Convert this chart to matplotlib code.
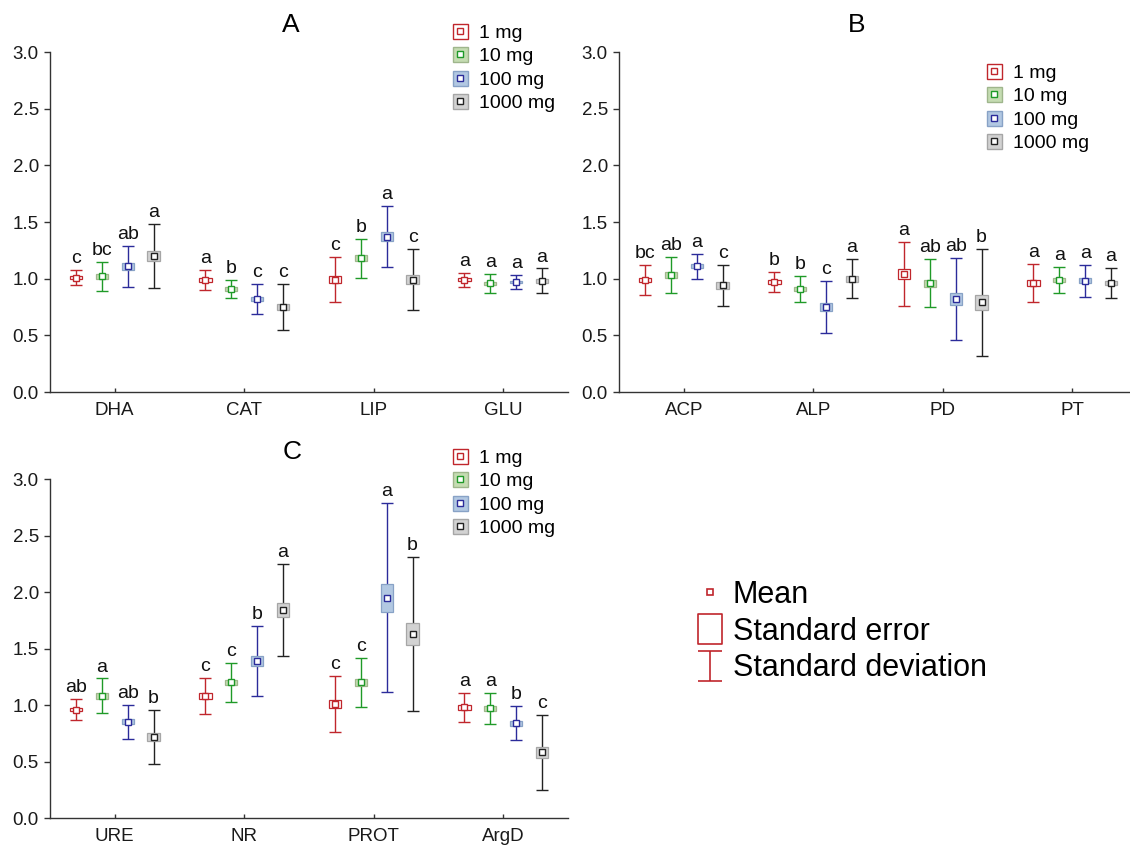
import numpy as np
import matplotlib
matplotlib.use("Agg")
import matplotlib.pyplot as plt
from matplotlib.lines import Line2D
from matplotlib.path import Path

plt.rcParams['font.family'] = ['Liberation Sans', 'DejaVu Sans']

### Data

doses = ["1 mg", "10 mg", "100 mg", "1000 mg"]

cats_a = ["DHA", "CAT", "LIP", "GLU"]
mean_a = [[1.01, 0.99, 0.99, 0.99],
          [1.02, 0.91, 1.18, 0.96],
          [1.11, 0.82, 1.37, 0.97],
          [1.20, 0.75, 0.99, 0.98]]
sd_a = [[0.07, 0.09, 0.20, 0.06],
        [0.13, 0.08, 0.17, 0.085],
        [0.18, 0.13, 0.27, 0.06],
        [0.28, 0.20, 0.27, 0.11]]
se_a = [[0.015, 0.015, 0.03, 0.012],
        [0.02, 0.015, 0.025, 0.015],
        [0.03, 0.02, 0.04, 0.012],
        [0.04, 0.03, 0.04, 0.02]]
let_a = [["c", "a", "c", "a"],
         ["bc", "b", "b", "a"],
         ["ab", "c", "a", "a"],
         ["a", "c", "c", "a"]]

cats_b = ["ACP", "ALP", "PD", "PT"]
mean_b = [[0.99, 0.97, 1.04, 0.96],
          [1.03, 0.91, 0.96, 0.99],
          [1.11, 0.75, 0.82, 0.98],
          [0.94, 1.00, 0.79, 0.96]]
sd_b = [[0.135, 0.09, 0.28, 0.17],
        [0.16, 0.115, 0.21, 0.115],
        [0.11, 0.23, 0.36, 0.145],
        [0.185, 0.17, 0.47, 0.135]]
se_b = [[0.02, 0.015, 0.045, 0.025],
        [0.025, 0.018, 0.03, 0.018],
        [0.018, 0.035, 0.055, 0.022],
        [0.028, 0.025, 0.07, 0.02]]
let_b = [["bc", "b", "a", "a"],
         ["ab", "b", "ab", "a"],
         ["a", "c", "ab", "a"],
         ["c", "a", "b", "a"]]

cats_c = ["URE", "NR", "PROT", "ArgD"]
mean_c = [[0.96, 1.08, 1.01, 0.98],
          [1.08, 1.20, 1.20, 0.97],
          [0.85, 1.39, 1.95, 0.84],
          [0.72, 1.84, 1.63, 0.58]]
sd_c = [[0.09, 0.16, 0.25, 0.13],
        [0.155, 0.17, 0.22, 0.136],
        [0.15, 0.31, 0.835, 0.15],
        [0.24, 0.41, 0.68, 0.33]]
se_c = [[0.015, 0.025, 0.037, 0.02],
        [0.023, 0.025, 0.032, 0.02],
        [0.022, 0.045, 0.125, 0.022],
        [0.035, 0.06, 0.098, 0.048]]
let_c = [["ab", "c", "c", "a"],
         ["a", "c", "c", "a"],
         ["ab", "b", "a", "b"],
         ["b", "a", "b", "c"]]

### Style

line_cols = ["#c0262c", "#1f9a28", "#2b2b9a", "#222222"]
box_fill = ["white", "#c5dcb2", "#b2c8e2", "#d2d2d2"]
box_edge = ["#c0262c", "#9fb68c", "#88a2c6", "#a6a6a6"]
offsets = [-0.3, -0.1, 0.1, 0.3]

W, H = 1130, 847
fig = plt.figure(figsize=(W / 100, H / 100), dpi=100)


def px_axes(left, top, right, bottom):
    return fig.add_axes([left / W, 1 - bottom / H, (right - left) / W, (bottom - top) / H])


def draw_panel(ax, cats, means, sds, ses, letters):
    xs = np.arange(1, len(cats) + 1)
    for i in range(4):
        x = xs + offsets[i]
        m = np.array(means[i])
        sd = np.array(sds[i])
        se = np.array(ses[i])
        ax.errorbar(x, m, yerr=sd, fmt='none', ecolor=line_cols[i],
                    elinewidth=1.0, capsize=4.3, capthick=1.0, zorder=2)
        ax.bar(x, 2 * se, bottom=m - se, width=0.095, color=box_fill[i],
               edgecolor=box_edge[i], linewidth=0.9, zorder=3)
        ax.plot(x, m, 's', ms=4.2, mfc='white', mec=line_cols[i], mew=1.0, zorder=4)
        for xi, top, lab in zip(x, m + sd, letters[i]):
            ax.annotate(lab, (xi, top), xytext=(0, 5), textcoords='offset points',
                        ha='center', va='baseline', fontsize=14, color='#111111')

    ax.set_xlim(0.5, 4.5)
    ax.set_ylim(0, 3)
    ax.set_xticks(xs)
    ax.set_xticklabels(cats)
    ax.set_yticks(np.arange(0, 3.01, 0.5))
    ax.set_yticklabels([f"{v:.1f}" for v in np.arange(0, 3.01, 0.5)])
    for s in ['top', 'right']:
        ax.spines[s].set_visible(False)
    for s in ['left', 'bottom']:
        ax.spines[s].set_color('#333333')
        ax.spines[s].set_linewidth(1.0)
    ax.tick_params(axis='y', direction='out', length=4, width=1, color='#333333',
                   labelsize=13.5, labelcolor='#1a1a1a', pad=4)
    ax.tick_params(axis='x', direction='in', length=3, width=1, color='#333333',
                   labelsize=13.5, labelcolor='#1a1a1a', pad=7)
    ax.patch.set_alpha(0)


def dose_legend(ax, x_px, y_px):
    handles = []
    for i in range(4):
        big = Line2D([], [], marker='s', ls='none', ms=10.8, mfc=box_fill[i],
                     mec=box_edge[i], mew=1.0)
        small = Line2D([], [], marker='s', ls='none', ms=3.8, mfc='white',
                       mec=line_cols[i], mew=1.0)
        handles.append((big, small))
    ax.legend(handles, doses, loc='upper left',
              bbox_to_anchor=(x_px / W, 1 - y_px / H), bbox_transform=fig.transFigure,
              frameon=False, fontsize=14, handlelength=0.75, handletextpad=0.6,
              labelspacing=0.3, borderpad=0, borderaxespad=0)


ax_a = px_axes(50, 52, 568, 392)
draw_panel(ax_a, cats_a, mean_a, sd_a, se_a, let_a)
dose_legend(ax_a, 453, 24)

ax_b = px_axes(619, 52, 1137, 392)
draw_panel(ax_b, cats_b, mean_b, sd_b, se_b, let_b)
dose_legend(ax_b, 987, 64)

ax_c = px_axes(50, 479, 568, 818)
draw_panel(ax_c, cats_c, mean_c, sd_c, se_c, let_c)
dose_legend(ax_c, 453, 449)

fig.text(291 / W, 1 - 25 / H, "A", ha='center', va='center', fontsize=19)
fig.text(857 / W, 1 - 25 / H, "B", ha='center', va='center', fontsize=19)
fig.text(292 / W, 1 - 452 / H, "C", ha='center', va='center', fontsize=19)

### Key for the marks

rect_path = Path([(-0.41, -0.5), (0.41, -0.5), (0.41, 0.5), (-0.41, 0.5), (-0.41, -0.5)],
                 [Path.MOVETO, Path.LINETO, Path.LINETO, Path.LINETO, Path.CLOSEPOLY])
ibeam_path = Path([(-0.41, 0.5), (0.41, 0.5), (0, 0.5), (0, -0.5), (-0.41, -0.5), (0.41, -0.5)],
                  [Path.MOVETO, Path.LINETO, Path.MOVETO, Path.LINETO, Path.MOVETO, Path.LINETO])
red = line_cols[0]
key_handles = [
    Line2D([], [], marker='s', ls='none', ms=4.5, mfc='white', mec=red, mew=1.2),
    Line2D([], [], marker=rect_path, ls='none', ms=21, mfc='white', mec=red, mew=1.2),
    Line2D([], [], marker=ibeam_path, ls='none', ms=21, mfc='none', mec=red, mew=1.2),
]
fig.legend(key_handles, ["Mean", "Standard error", "Standard deviation"],
           loc='upper left', bbox_to_anchor=(698 / W, 1 - 580 / H),
           frameon=False, fontsize=22, handlelength=0.78, handletextpad=0.36,
           labelspacing=0.22, borderpad=0, borderaxespad=0)

fig.savefig("out.png", dpi=100)
